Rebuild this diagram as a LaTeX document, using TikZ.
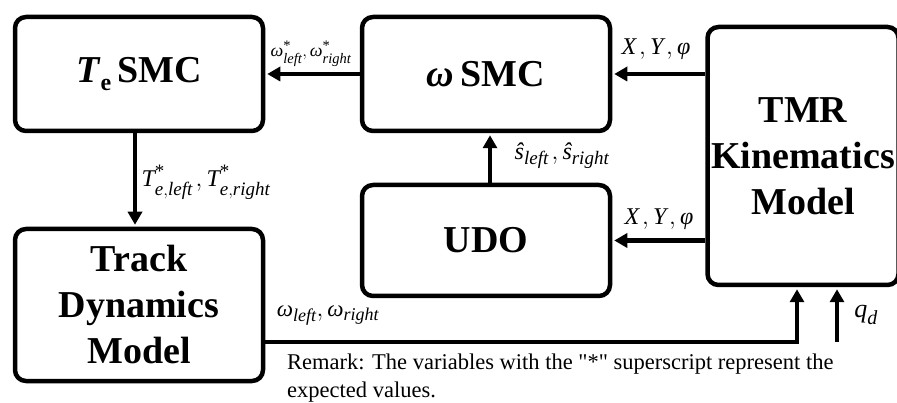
\documentclass[tikz,border=0pt]{standalone}
\usepackage{amsmath}
\usepackage{fontspec}
\setmainfont{Liberation Serif}[Ligatures=TeXOff]
\usetikzlibrary{arrows.meta}
% larger script sizes for the signal labels
\DeclareMathSizes{23}{23}{18}{13}
\DeclareMathSizes{24}{24}{19}{14}
\DeclareMathSizes{18}{18}{14.5}{11}
\DeclareMathSizes{26}{26}{20}{15}
% italic text-font letters inside math
\newcommand{\iv}[1]{\text{\itshape #1}}
\newcommand{\st}{\text{*}}
\newcommand{\cm}{\mkern2mu,}
\begin{document}
\begin{tikzpicture}[x=1pt,y=-1pt,
  block/.style={draw, line width=4.5pt, rounded corners=11pt, align=center,
    inner sep=0pt, font=\fontsize{38}{46}\selectfont\bfseries},
  flow/.style={line width=4.5pt, -{Triangle[length=13pt,width=14pt]}, shorten >=2pt},
  lab/.style={inner sep=0pt, anchor=base, font=\fontsize{24}{26}\selectfont}]
\useasboundingbox (0,0) rectangle (897,403);
\clip (0,0) rectangle (897,403);

% blocks
\node[block, minimum width=248pt, minimum height=114pt] (te) at (139,74)
  {\textit{T}\raisebox{-0.2em}{\fontsize{24}{24}\selectfont e}\,SMC};
\node[block, minimum width=248pt, minimum height=114pt] (ws) at (486,74)
  {\textit{ω}\,SMC};
\node[block, minimum width=248pt, minimum height=111pt] (udo) at (486,240.5)
  {UDO};
\node[block, minimum width=248pt, minimum height=152pt] (track) at (139,305)
  {Track\\Dynamics\\Model};
\node[block, minimum width=191pt, minimum height=258pt] (tmr) at (803,156)
  {TMR\\Kinematics\\Model};

% signal flow
\draw[flow] (ws.west) -- (te.east);
\draw[flow] (ws.east -| tmr.west) -- (ws.east);
\draw[flow] (udo.east -| tmr.west) -- (udo.east);
\draw[flow] ([xshift=4pt]udo.north) -- ([xshift=4pt]ws.south);
\draw[flow] ([xshift=-4pt]te.south) -- ([xshift=-4pt]track.north);
\coordinate (bend) at (797,342);
\draw[flow] (bend -| track.east) -- (bend) -- (bend |- tmr.south);
\coordinate (qd) at (837,342);
\draw[flow] (qd) -- (qd |- tmr.south);

% signal labels
\node[lab, font=\fontsize{18}{20}\selectfont] (lw) at (311,57)
  {$\iv{ω}^{\st}_{\iv{left}},\iv{ω}^{\st}_{\iv{right}}$};
\node[lab] (lxa) at (656,55) {$\iv{X}\cm\iv{Y}\cm\iv{φ}$};
\node[lab] (lxb) at (659,225) {$\iv{X}\cm\iv{Y}\cm\iv{φ}$};
\node[lab] (ls) at (562,160) {$\iv{ŝ}_{\iv{left}}\cm\iv{ŝ}_{\iv{right}}$};
\node[lab] (lt) at (206,187) {$\iv{T}^{\st}_{\iv{e},\iv{left}}\cm\iv{T}^{\st}_{\iv{e},\iv{right}}$};
\node[lab, font=\fontsize{23}{25}\selectfont] (lo) at (328,317)
  {$\iv{ω}_{\iv{left}},\iv{ω}_{\iv{right}}$};
\node[lab, font=\fontsize{26}{28}\selectfont] (lq) at (866,318) {$\iv{q}_{\iv{d}}$};

% remark
\node[anchor=north west, align=left, inner sep=0pt,
  font=\fontsize{22.5}{28}\selectfont] (remark) at (287,354)
  {Remark: The variables with the "*" superscript represent the\\expected values.};
\end{tikzpicture}
\end{document}
